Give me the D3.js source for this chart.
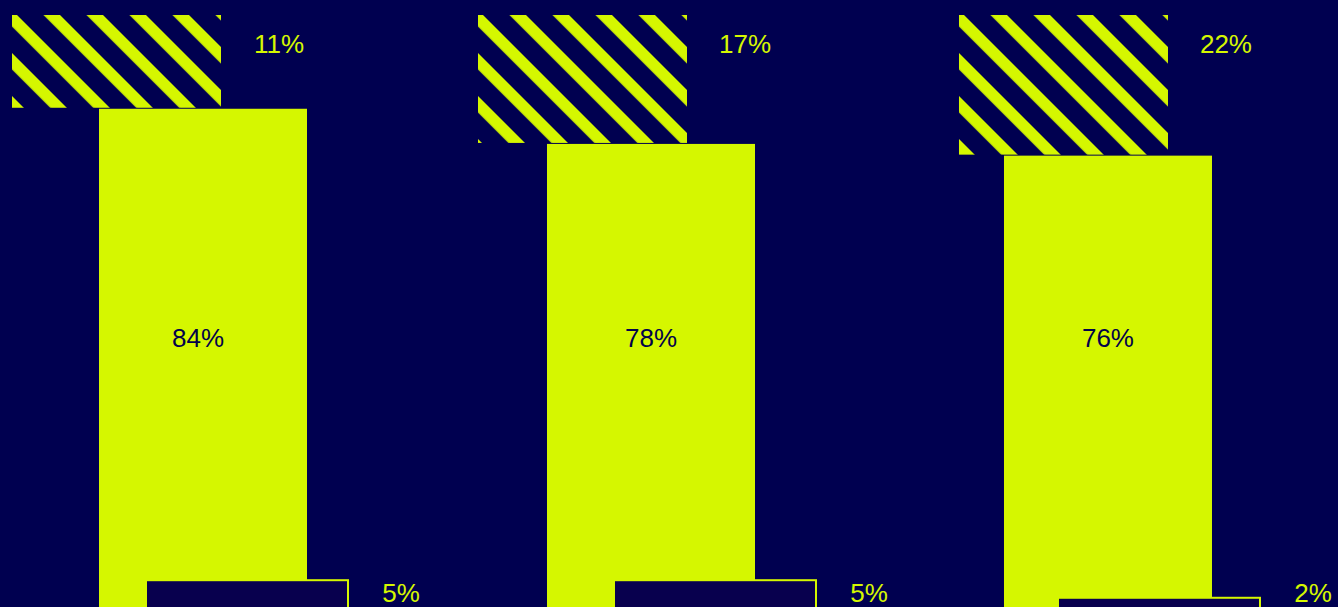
<!DOCTYPE html>
<html>
<head>
<meta charset="utf-8">
<script src="https://cdn.jsdelivr.net/npm/d3@7"></script>
<style>
  html, body { margin: 0; padding: 0; background: #000050; overflow: hidden; }
  svg { display: block; }
</style>
</head>
<body>
<div id="chart"></div>
<script>
// ---- data ----
const categories = ["A", "B", "C"];
const mainValues = [84, 78, 76];     // solid yellow bars
const hatchValues = [11, 17, 22];    // hatched blocks (top)
const boxValues = [5, 5, 2];         // outlined boxes (bottom)

// ---- layout / style (not data) ----
const W = 1338, H = 607;
const bgColor = "#000050";
const yellow = "#d5f700";
const boxFill = "#08004e";
const darkText = "#02024a";
const barWidth = 208, hatchWidth = 209, boxWidth = 202;
const hatchNudge = [-87, -69, -45];   // hatch block offset from bar x
const barNudge = [0, -4.5, 0];        // small per-group jitter
const boxNudge = [47, 67, 54];        // box offset from bar x
const boxDrop = 8.5;
const bottomEdge = 640;

const svg = d3.select("#chart").append("svg")
  .attr("width", W).attr("height", H)
  .style("background", bgColor);

svg.append("rect").attr("width", W).attr("height", H).attr("fill", bgColor);

const x = d3.scaleBand().domain(categories).range([99, 1212])
  .paddingInner(0.5403).paddingOuter(0);
const y = d3.scaleLinear().domain([0, 100]).range([601, 15]);

const defs = svg.append("defs");
const P = 30.4, S = 11.6;

const data = categories.map((c, i) => ({
  c, i, main: mainValues[i], hatch: hatchValues[i], box: boxValues[i],
  bx: x(c) + barNudge[i]
}));

data.forEach(d => {
  const hx = d.bx + hatchNudge[d.i];
  const pat = defs.append("pattern")
    .attr("id", "hatch" + d.i)
    .attr("patternUnits", "userSpaceOnUse")
    .attr("width", P).attr("height", P)
    .attr("patternTransform", `translate(${hx + 5},${y(100)}) rotate(45)`);
  pat.append("rect").attr("width", P).attr("height", P).attr("fill", bgColor);
  pat.append("rect").attr("x", 0).attr("y", 0).attr("width", P).attr("height", S).attr("fill", yellow);
});

const g = svg.append("g");

// hatched blocks
g.selectAll("rect.hatch").data(data).join("rect")
  .attr("class", "hatch")
  .attr("x", d => d.bx + hatchNudge[d.i])
  .attr("y", y(100))
  .attr("width", hatchWidth)
  .attr("height", d => y(d.main) - y(100) - 1)
  .attr("fill", d => `url(#hatch${d.i})`);

// solid bars
g.selectAll("rect.main").data(data).join("rect")
  .attr("class", "main")
  .attr("x", d => d.bx)
  .attr("y", d => y(d.main))
  .attr("width", barWidth)
  .attr("height", d => bottomEdge - y(d.main))
  .attr("fill", yellow);

// outlined boxes
g.selectAll("rect.box").data(data).join("rect")
  .attr("class", "box")
  .attr("x", d => d.bx + boxNudge[d.i])
  .attr("y", d => y(d.box) + boxDrop)
  .attr("width", boxWidth)
  .attr("height", d => bottomEdge - y(d.box))
  .attr("fill", boxFill)
  .attr("stroke", yellow)
  .attr("stroke-width", 2);

const font = "'Liberation Sans', Arial, Helvetica, sans-serif";
const fmt = v => v + "%";

// hatch labels
g.selectAll("text.hl").data(data).join("text")
  .attr("class", "hl")
  .attr("x", d => d.bx + hatchNudge[d.i] + hatchWidth + 58)
  .attr("y", 44)
  .attr("dy", "0.35em")
  .attr("text-anchor", "middle")
  .attr("font-family", font).attr("font-size", 26)
  .attr("fill", yellow)
  .text(d => fmt(d.hatch));

// main labels
g.selectAll("text.ml").data(data).join("text")
  .attr("class", "ml")
  .attr("x", d => d.bx + barWidth / 2 - (d.i === 0 ? 5 : 0))
  .attr("y", 338)
  .attr("dy", "0.35em")
  .attr("text-anchor", "middle")
  .attr("font-family", font).attr("font-size", 26)
  .attr("fill", darkText)
  .text(d => fmt(d.main));

// box labels
g.selectAll("text.bl").data(data).join("text")
  .attr("class", "bl")
  .attr("x", d => d.bx + boxNudge[d.i] + boxWidth + 53)
  .attr("y", 593)
  .attr("dy", "0.35em")
  .attr("text-anchor", "middle")
  .attr("font-family", font).attr("font-size", 26)
  .attr("fill", yellow)
  .text(d => fmt(d.box));
</script>
</body>
</html>
